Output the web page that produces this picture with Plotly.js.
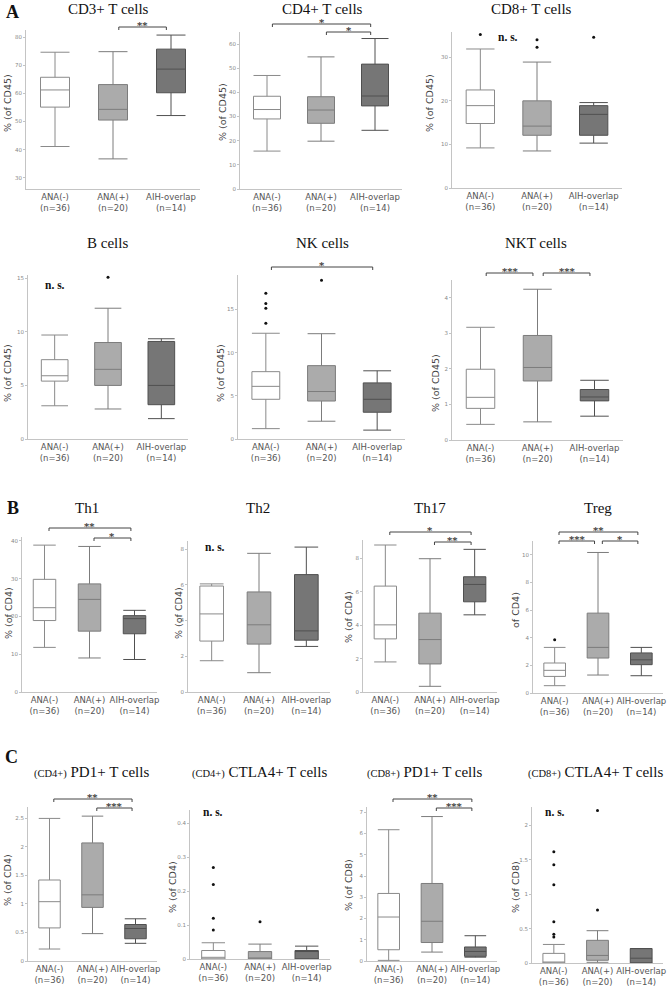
<!DOCTYPE html>
<html><head><meta charset="utf-8">
<script src="https://cdn.plot.ly/plotly-3.0.1.min.js"></script>
<style>html,body{margin:0;padding:0;background:#fff;} #chart{width:668px;height:989px;}</style>
</head><body><div id="chart"></div>
<script>
// ---------- DATA ----------
const groups = ['ANA(-)', 'ANA(+)', 'AIH-overlap'];
const groupN = ['(n=36)', '(n=20)', '(n=14)'];
// each row: [lower whisker, Q1, median, Q3, upper whisker] for ANA(-), ANA(+), AIH-overlap
const cd3Stats = [[41.1, 55.1, 61.2, 65.7, 74.6], [36.7, 50.5, 54.3, 63.1, 74.8], [52.1, 60.2, 68.6, 75.7, 80.7]];
const cd3Out = [[], [], []];
const cd4Stats = [[15.7, 29.0, 32.9, 38.4, 47.0], [19.8, 27.2, 32.7, 38.2, 54.7], [24.3, 34.4, 38.5, 51.7, 62.3]];
const cd4Out = [[], [], []];
const cd8Stats = [[9.2, 14.8, 18.9, 22.5, 31.9], [8.5, 12.1, 14.2, 20.0, 28.9], [10.3, 12.1, 16.9, 18.9, 19.6]];
const cd8Out = [[35.2], [34.0, 32.3], [34.6]];
const bStats = [[3.1, 5.4, 5.9, 7.4, 9.7], [2.8, 5.0, 6.5, 9.0, 12.2], [1.9, 3.2, 5.0, 9.1, 9.35]];
const bOut = [[], [15.1], []];
const nkStats = [[1.2, 4.6, 6.1, 7.8, 12.25], [2.06, 4.4, 5.5, 8.5, 12.2], [1.03, 3.1, 4.6, 6.5, 7.9]];
const nkOut = [[16.9, 15.7, 15.15, 13.4], [18.4], []];
const nktStats = [[0.44, 0.89, 1.2, 1.99, 3.17], [0.51, 1.66, 2.04, 2.94, 4.24], [0.67, 1.1, 1.21, 1.42, 1.68]];
const nktOut = [[], [], []];
const th1Stats = [[11.8, 18.9, 22.3, 29.8, 38.85], [9.0, 16.1, 24.5, 28.6, 38.5], [8.6, 15.4, 19.4, 20.2, 21.6]];
const th1Out = [[], [], []];
const th2Stats = [[1.75, 2.85, 4.37, 5.93, 6.05], [1.08, 2.68, 3.76, 5.6, 7.76], [2.55, 2.9, 3.42, 6.57, 8.11]];
const th2Out = [[], [], []];
const th17Stats = [[1.8, 3.18, 4.02, 6.34, 8.8], [0.34, 1.68, 3.14, 4.72, 7.98], [4.62, 5.4, 6.44, 6.9, 8.54]];
const th17Out = [[], [], []];
const tregStats = [[0.53, 1.2, 1.64, 2.17, 3.3], [1.3, 2.53, 3.3, 5.78, 10.17], [1.25, 2.05, 2.4, 2.9, 3.3]];
const tregOut = [[3.86], [], []];
const pd1cd4Stats = [[0.21, 0.58, 1.04, 1.42, 2.5], [0.48, 0.94, 1.16, 2.07, 2.54], [0.31, 0.39, 0.57, 0.64, 0.74]];
const pd1cd4Out = [[], [], []];
const ctla4cd4Stats = [[0, 0, 0.005, 0.025, 0.048], [0, 0, 0.003, 0.022, 0.044], [0, 0, 0.023, 0.025, 0.038]];
const ctla4cd4Out = [[0.27, 0.22, 0.12, 0.086], [0.11], []];
const pd1cd8Stats = [[0.03, 0.53, 2.07, 3.18, 6.18], [0.42, 0.87, 1.87, 3.65, 6.8], [0.18, 0.22, 0.45, 0.66, 1.19]];
const pd1cd8Out = [[], [], []];
const ctla4cd8Stats = [[0, 0, 0.005, 0.14, 0.27], [0.01, 0.04, 0.11, 0.33, 0.47], [0, 0, 0.07, 0.21, 0.21]];
const ctla4cd8Out = [[1.62, 1.43, 1.14, 0.6, 0.42, 0.38], [2.22, 0.77], []];

// ---------- LAYOUT CONFIG (pixels) ----------
const W = 668, H = 989;
const fx = v => v / W, fy = v => 1 - v / H;
const small = t => '<span style="font-size:10.5px">' + t + '</span> ';
const panels = [
  {s: cd3Stats, o: cd3Out, title: 'CD3+ T cells', tc: [108, 9], yt: '% (of CD45)', ytc: [8, 103], dom: [26, 200, 30, 189], range: [26, 82.5], dtick: 10, sig: [[1, 2, '**', 27]]},
  {s: cd4Stats, o: cd4Out, title: 'CD4+ T cells', tc: [322, 9], yt: '% (of CD45)', ytc: [223, 112], dom: [240, 402, 32, 189], range: [0, 65], dtick: 10, sig: [[0, 2, '*', 24], [1, 2, '*', 32]]},
  {s: cd8Stats, o: cd8Out, title: 'CD8+ T cells', tc: [531, 9], yt: '% (of CD45)', ytc: [430, 103], dom: [452, 622, 32, 188], range: [0, 35.8], dtick: 10, sig: [], ns: [508, 37]},
  {s: bStats, o: bOut, title: 'B cells', tc: [107, 243], yt: '% (of CD45)', ytc: [7, 373], dom: [28, 188, 275, 439], range: [0, 15.3], dtick: 5, sig: [], ns: [55, 285]},
  {s: nkStats, o: nkOut, title: 'NK cells', tc: [322, 243], yt: '% (of CD45)', ytc: [220, 373], dom: [238, 405, 275, 439], range: [0, 19], dtick: 5, sig: [[0, 2, '*', 267]]},
  {s: nktStats, o: nktOut, title: 'NKT cells', tc: [536, 243], yt: '% (of CD45)', ytc: [435, 383], dom: [452, 623, 280, 440], range: [0, 4.5], dtick: 1, sig: [[0, 1, '***', 273], [1, 2, '***', 273]]},
  {s: th1Stats, o: th1Out, title: 'Th1', tc: [87, 508], yt: '% (of CD4)', ytc: [8, 613], dom: [22, 157, 537, 692], range: [0, 41], dtick: 10, sig: [[0, 2, '**', 528], [1, 2, '*', 538]]},
  {s: th2Stats, o: th2Out, title: 'Th2', tc: [258, 508], yt: '% (of CD4)', ytc: [178, 613], dom: [188, 330, 541, 692], range: [0, 8.45], dtick: 2, sig: [], ns: [215, 547]},
  {s: th17Stats, o: th17Out, title: 'Th17', tc: [430, 508], yt: '% (of CD4)', ytc: [348, 617], dom: [363, 497, 540, 692], range: [0, 9.1], dtick: 2, sig: [[0, 2, '*', 532], [1, 2, '**', 542]]},
  {s: tregStats, o: tregOut, title: 'Treg', tc: [598, 508], yt: 'of CD4)', ytc: [515, 610], dom: [533, 663, 541, 693], range: [0, 11], dtick: 2, sig: [[0, 2, '**', 532], [0, 1, '***', 541], [1, 2, '*', 541]]},
  {s: pd1cd4Stats, o: pd1cd4Out, title: small('(CD4+)') + 'PD1+ T cells', tc: [91, 772], yt: '% (of CD4)', ytc: [7, 880], dom: [28, 157, 807, 961], range: [0, 2.7], dtick: 0.5, sig: [[0, 2, '**', 799], [1, 2, '***', 808]]},
  {s: ctla4cd4Stats, o: ctla4cd4Out, title: small('(CD4+)') + 'CTLA4+ T cells', tc: [259, 772], yt: '% (of CD4)', ytc: [172, 887], dom: [190, 330, 810, 959], range: [0, 0.44], dtick: 0.1, sig: [], ns: [213, 812]},
  {s: pd1cd8Stats, o: pd1cd8Out, title: small('(CD8+)') + 'PD1+ T cells', tc: [424, 772], yt: '% (of CD8)', ytc: [348, 885], dom: [367, 497, 807, 961], range: [0, 7.25], dtick: 1, sig: [[0, 2, '**', 799], [1, 2, '***', 808]]},
  {s: ctla4cd8Stats, o: ctla4cd8Out, title: small('(CD8+)') + 'CTLA4+ T cells', tc: [595, 772], yt: '% (of CD8)', ytc: [515, 887], dom: [532, 663, 807, 963], range: [0, 2.27], dtick: 0.5, sig: [], ns: [555, 812]}
];
const fills = ['#ffffff', '#ababab', '#767676'];
const lines = ['#8a8a8a', '#7c7c7c', '#505050'];
const serif = 'Liberation Serif, Times New Roman, serif';
const sans = 'DejaVu Sans, Verdana, sans-serif';

const data = [];
const layout = {
  width: W, height: H, margin: {l: 0, r: 0, t: 0, b: 0},
  paper_bgcolor: '#fff', plot_bgcolor: '#fff', showlegend: false,
  annotations: [], shapes: []
};

panels.forEach((p, k) => {
  const n = k + 1;
  const xa = 'x' + (n === 1 ? '' : n), ya = 'y' + (n === 1 ? '' : n);
  const xk = 'xaxis' + (n === 1 ? '' : n), yk = 'yaxis' + (n === 1 ? '' : n);
  p.s.forEach((st, g) => {
    data.push({
      type: 'box', xaxis: xa, yaxis: ya, x: [g],
      lowerfence: [st[0]], q1: [st[1]], median: [st[2]], q3: [st[3]], upperfence: [st[4]],
      width: 0.5, whiskerwidth: 1, fillcolor: fills[g],
      line: {color: lines[g], width: 1}, hoverinfo: 'skip'
    });
    if (p.o[g].length) {
      data.push({
        type: 'scatter', mode: 'markers', xaxis: xa, yaxis: ya,
        x: p.o[g].map(() => g), y: p.o[g],
        marker: {color: '#111', size: 3}, hoverinfo: 'skip'
      });
    }
  });
  layout[xk] = {
    domain: [fx(p.dom[0]), fx(p.dom[1])], anchor: ya, range: [-0.5, 2.5],
    tickmode: 'array', tickvals: [0, 1, 2], ticktext: groups.map((t, i) => t + '<br>' + groupN[i]),
    showline: true, linecolor: '#c4c4c4', linewidth: 1, ticks: '', showgrid: false, zeroline: false,
    tickfont: {family: sans, size: 8.5, color: '#555'}, fixedrange: true
  };
  layout[yk] = {
    domain: [fy(p.dom[3]), fy(p.dom[2])], anchor: xa, range: p.range, dtick: p.dtick,
    showline: true, linecolor: '#c4c4c4', linewidth: 1, ticks: 'outside', ticklen: 2, tickcolor: '#c4c4c4',
    showgrid: false, zeroline: false, tickfont: {family: sans, size: 5.5, color: '#888'}, fixedrange: true
  };
  layout.annotations.push({
    xref: 'paper', yref: 'paper', x: fx(p.tc[0]), y: fy(p.tc[1]), text: p.title, showarrow: false,
    xanchor: 'center', yanchor: 'middle', font: {family: serif, size: 15, color: '#111'}
  });
  layout.annotations.push({
    xref: 'paper', yref: 'paper', x: fx(p.ytc[0]), y: fy(p.ytc[1]), text: p.yt, showarrow: false,
    textangle: -90, xanchor: 'center', yanchor: 'middle', font: {family: sans, size: 9.5, color: '#444'}
  });
  if (p.ns) {
    layout.annotations.push({
      xref: 'paper', yref: 'paper', x: fx(p.ns[0]), y: fy(p.ns[1]), text: '<b>n. s.</b>', showarrow: false,
      xanchor: 'center', yanchor: 'middle', font: {family: serif, size: 11.5, color: '#111'}
    });
  }
  p.sig.forEach(b => {
    const x0 = b[0] + 0.1, x1 = b[1] - 0.08, yl = fy(b[3]), yd = fy(b[3] + 3);
    layout.shapes.push({
      type: 'path', xref: xa, yref: 'paper',
      path: `M${x0},${yd} L${x0},${yl} L${x1},${yl} L${x1},${yd}`,
      line: {color: '#444', width: 1}
    });
    layout.annotations.push({
      xref: xa, yref: 'paper', x: (x0 + x1) / 2, y: yl, text: '<b>' + b[2] + '</b>', showarrow: false,
      xanchor: 'center', yanchor: 'bottom', yshift: -6, font: {family: 'DejaVu Serif, serif', size: 10, color: '#333'}
    });
  });
});

[['A', 12, 12], ['B', 13, 508], ['C', 11, 757]].forEach(l => {
  layout.annotations.push({
    xref: 'paper', yref: 'paper', x: fx(l[1]), y: fy(l[2]), text: '<b>' + l[0] + '</b>', showarrow: false,
    xanchor: 'center', yanchor: 'middle', font: {family: serif, size: 18, color: '#111'}
  });
});

Plotly.newPlot('chart', data, layout, {staticPlot: true, displayModeBar: false});
</script>
</body></html>
